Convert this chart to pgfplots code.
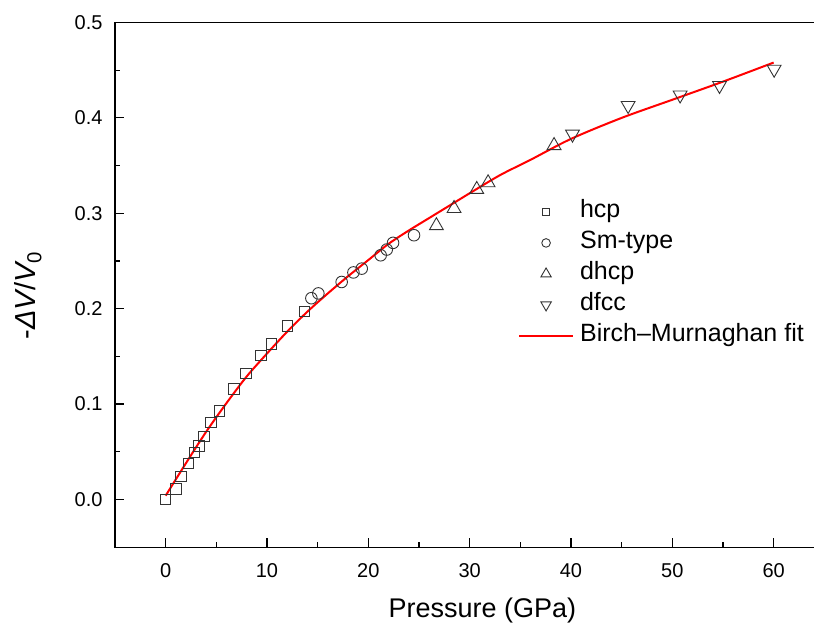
\documentclass[border=0pt]{standalone}
\usepackage{fontspec}
\setmainfont{Liberation Sans}
\usepackage{pgfplots}
\pgfplotsset{compat=1.18}

\pgfplotsset{
  every axis/.append style={/pgf/number format/assume math mode=true},
}

\begin{document}
\begin{tikzpicture}
\begin{axis}[
  name=ax,
  scale only axis,
  width=709.3bp, height=524.7bp,
  xmin=-5, xmax=65, ymin=-0.05, ymax=0.5,
  axis line style={line width=1.3bp},
  xtick={0,10,...,60}, ytick={0,0.1,...,0.5},
  minor xtick={-5,5,15,25,35,45,55},
  minor ytick={-0.05,0.05,0.15,0.25,0.35,0.45},
  xtick pos=left, ytick pos=left,
  tick align=inside,
  major tick length=9bp, minor tick length=5bp,
  every tick/.style={black, line width=1.2bp},
  yticklabel style={/pgf/number format/fixed,/pgf/number format/fixed zerofill,/pgf/number format/precision=1, xshift=-9bp},
  xticklabel style={yshift=-13bp},
  tick label style={font=\fontsize{20bp}{24bp}\selectfont},
  label style={font=\fontsize{27bp}{32bp}\selectfont},
  xlabel={Pressure (GPa)},
  ylabel={-{\itshape ΔV}/{\itshape V}\textsubscript{0}},
  xlabel style={at={(axis description cs:0.518,0)}, anchor=north, yshift=-47bp},
  ylabel style={at={(axis description cs:0,0.48)}, anchor=south, yshift=70bp,
    font=\fontsize{29bp}{34bp}\selectfont},
  legend style={at={(axis description cs:0.568,0.666)}, anchor=north west,
    draw=none, fill=none, font=\fontsize{25bp}{30bp}\selectfont,
    row sep=3bp, column sep=4bp, inner sep=0pt,
    nodes={inner sep=2bp, text depth=6bp, text height=18bp}},
  legend cell align=left,
  legend image code/.code={\draw[mark repeat=2,mark phase=2,#1] plot coordinates {(0bp,0bp) (27bp,0bp) (54bp,0bp)};},
]

\addplot[only marks, mark=square, mark size=5.2bp, draw=black!80, line width=0.9bp,
  legend image post style={mark size=3.8bp}] coordinates {
  (0,0.000) (1.02,0.011) (1.51,0.024) (2.27,0.038) (2.83,0.049) (3.29,0.056)
  (3.78,0.066) (4.47,0.081) (5.30,0.093) (6.74,0.116) (7.93,0.132) (9.41,0.151)
  (10.46,0.163) (12.01,0.182) (13.69,0.197)
};
\addlegendentry{hcp}

\addplot[only marks, mark=o, mark size=5.8bp, draw=black!80, line width=0.9bp,
  legend image post style={mark size=4.3bp}] coordinates {
  (14.38,0.211) (15.07,0.216) (17.37,0.228) (18.53,0.238) (19.35,0.242)
  (21.22,0.256) (21.82,0.262) (22.44,0.269) (24.51,0.277)
};
\addlegendentry{Sm-type}

\addplot[only marks, mark=triangle, mark size=8bp, draw=black!80, line width=0.9bp,
  legend image post style={mark size=6bp}] coordinates {
  (26.72,0.287) (28.46,0.305) (30.70,0.325) (31.82,0.332) (38.33,0.371)
};
\addlegendentry{dhcp}

\addplot[only marks, mark=triangle, mark options={rotate=180}, mark size=8bp, draw=black!80, line width=0.9bp,
  legend image post style={mark size=6bp}] coordinates {
  (40.15,0.383) (45.64,0.413) (50.77,0.424) (54.66,0.434) (60.05,0.451)
};
\addlegendentry{dfcc}

\addplot[red, line width=2bp, smooth] coordinates {
  (0,0.004) (2,0.038) (4,0.071) (6,0.101) (8,0.129) (10,0.153) (12,0.176)
  (14,0.197) (16,0.216) (18,0.234) (20,0.251) (22,0.268) (24,0.282) (26,0.295)
  (28,0.308) (30,0.321) (33,0.340) (36,0.356) (40,0.378) (45,0.400) (50,0.419)
  (55,0.438) (60,0.458)
};
\addlegendentry{Birch–Murnaghan fit}

\end{axis}
\pgfresetboundingbox
\useasboundingbox ([xshift=-115bp,yshift=-77bp]ax.south west) rectangle ([xshift=699bp,yshift=22.5bp]ax.north west);
\end{tikzpicture}
\end{document}
